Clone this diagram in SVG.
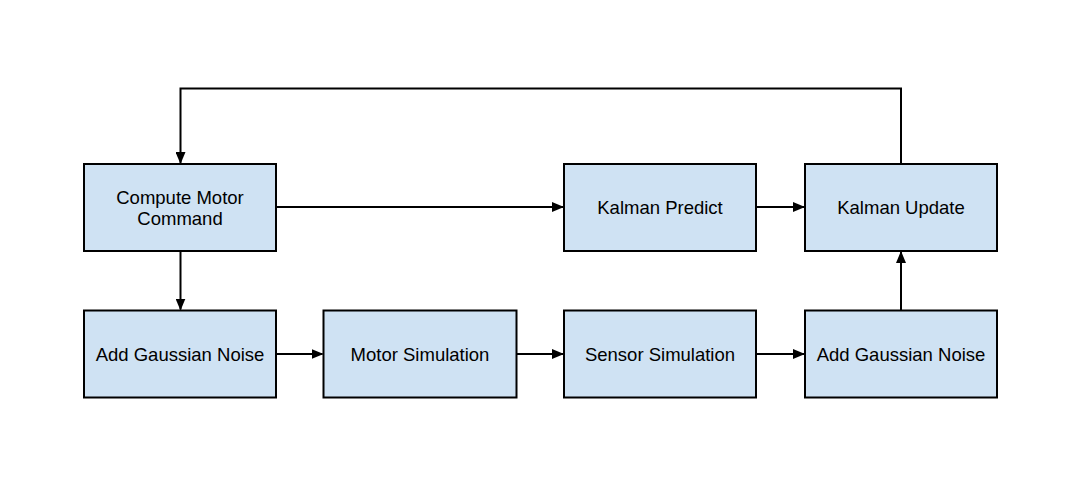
<svg xmlns="http://www.w3.org/2000/svg" width="1082" height="486" viewBox="0 0 1082 486">
<style>
.box{fill:#cfe2f3;stroke:#000;stroke-width:2}
.lbl{font-family:"Liberation Sans",Arial,sans-serif;font-size:18.5px;fill:#000;text-anchor:middle}
.con{fill:none;stroke:#000;stroke-width:2}
</style>
<defs>
<marker id="ah" markerWidth="12" markerHeight="10" refX="11" refY="5" orient="auto" markerUnits="userSpaceOnUse">
<path d="M0,0 L12,5 L0,10 Z" fill="#000"/>
</marker>
</defs>
<rect width="1082" height="486" fill="#fff"/>
<g id="connectors">
<path class="con" d="M901,164 V88.5 H180.5 V163" marker-end="url(#ah)"/>
<path class="con" d="M276,207 H563" marker-end="url(#ah)"/>
<path class="con" d="M756,207 H804" marker-end="url(#ah)"/>
<path class="con" d="M180.5,251 V309.5" marker-end="url(#ah)"/>
<path class="con" d="M276,354 H322.5" marker-end="url(#ah)"/>
<path class="con" d="M516,354 H563" marker-end="url(#ah)"/>
<path class="con" d="M756,354 H804" marker-end="url(#ah)"/>
<path class="con" d="M901,310 V252" marker-end="url(#ah)"/>
</g>
<g id="compute">
<rect class="box" x="84" y="164" width="192" height="87"/>
<text class="lbl" x="180" y="203.5">Compute Motor</text>
<text class="lbl" x="180" y="224.5">Command</text>
</g>
<g id="kpredict">
<rect class="box" x="564" y="164" width="192" height="87"/>
<text class="lbl" x="660" y="214">Kalman Predict</text>
</g>
<g id="kupdate">
<rect class="box" x="805" y="164" width="192" height="87"/>
<text class="lbl" x="901" y="214">Kalman Update</text>
</g>
<g id="noise1">
<rect class="box" x="84" y="310.5" width="192" height="87"/>
<text class="lbl" x="180" y="360.5">Add Gaussian Noise</text>
</g>
<g id="motorsim">
<rect class="box" x="323.5" y="310.5" width="193" height="87"/>
<text class="lbl" x="420" y="360.5">Motor Simulation</text>
</g>
<g id="sensorsim">
<rect class="box" x="564" y="310.5" width="192" height="87"/>
<text class="lbl" x="660" y="360.5">Sensor Simulation</text>
</g>
<g id="noise2">
<rect class="box" x="805" y="310.5" width="192" height="87"/>
<text class="lbl" x="901" y="360.5">Add Gaussian Noise</text>
</g>
</svg>
